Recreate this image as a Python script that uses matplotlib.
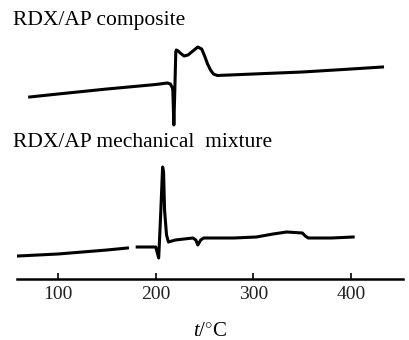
import numpy as np
import matplotlib
matplotlib.use("Agg")
import matplotlib.pyplot as plt

plt.rcParams['font.family'] = 'Liberation Serif'
plt.rcParams['mathtext.fontset'] = 'custom'
plt.rcParams['mathtext.rm'] = 'Liberation Serif'
plt.rcParams['mathtext.it'] = 'Liberation Serif:italic'

# DSC traces, temperature in C and signal in arbitrary units
comp_t = [71, 100, 150, 200, 212, 215, 217, 217.5, 218.5, 219.5, 220.5, 221,
          223, 225, 229, 233, 238, 243, 247, 250, 253, 256, 259, 263,
          300, 350, 400, 432]
comp_v = [182, 185, 190, 194.5, 196, 195, 191, 188, 154, 189, 227, 229,
          228, 226, 223, 224, 228, 232, 230, 223, 215, 209, 205, 203.5,
          205, 207, 210, 212]

mix_t = [59, 100, 150, 171, np.nan, 181, 200, 203, 205, 207, 208, 209, 211,
         213, 220, 238, 241, 243, 246, 249, 280, 303, 320, 334, 350, 353,
         356, 380, 402]
mix_v = [23, 25, 29, 31, np.nan, 32, 32, 21, 64, 112, 107, 69, 44,
         37, 39, 41, 39, 34, 39, 41, 41, 42, 45, 47, 46, 43,
         41, 41, 42]

ticks = [100, 200, 300, 400]

fig = plt.figure(figsize=(4.09, 3.40), dpi=100)
ax = fig.add_axes([17 / 409, 61 / 340, 386 / 409, 279 / 340])

ax.plot(comp_t, comp_v, color='black', lw=2.2, solid_joinstyle='round')
ax.plot(mix_t, mix_v, color='black', lw=2.2, solid_joinstyle='round')

ax.set_xlim(58, 453)
ax.set_ylim(0, 279)
for s in ['top', 'left', 'right']:
    ax.spines[s].set_visible(False)
ax.spines['bottom'].set_linewidth(1.8)
ax.set_yticks([])
ax.set_xticks(ticks)
ax.tick_params(axis='x', direction='in', length=4, width=1.2, labelsize=14,
               pad=5, labelcolor='#222222')
ax.set_xlabel(r'$t/^{\circ}\mathrm{C}$', fontsize=15, labelpad=14)

fig.text(13 / 409, 1 - 25 / 340, 'RDX/AP composite', fontsize=15.5,
         va='baseline', ha='left')
fig.text(13 / 409, 1 - 147 / 340, 'RDX/AP mechanical  mixture', fontsize=15.5,
         va='baseline', ha='left')

fig.savefig('out.png', dpi=100)
